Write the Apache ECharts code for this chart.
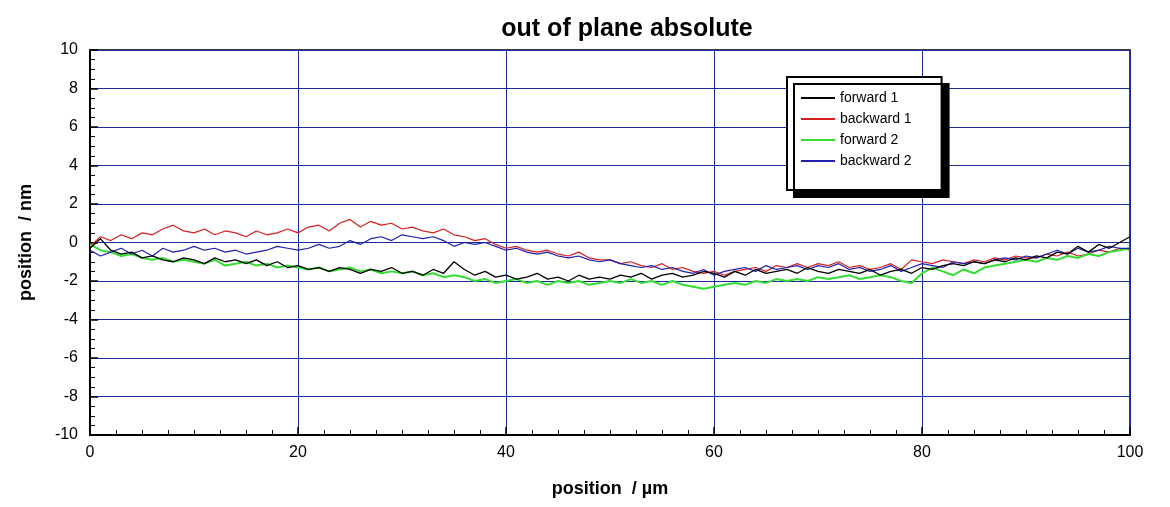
<!DOCTYPE html><html><head><meta charset="utf-8"><script src="https://cdn.jsdelivr.net/npm/echarts@6/dist/echarts.min.js"></script></head><body style="margin:0;background:#fff"><div id="c" style="width:1170px;height:507px"></div><script>
const seriesNames=['forward 1','backward 1','forward 2','backward 2'];
const xTicks=[0,20,40,60,80,100];
const forward1=[-0.3,0.2,-0.4,-0.6,-0.5,-0.8,-0.7,-0.9,-1.0,-0.8,-0.9,-1.1,-0.8,-1.0,-0.9,-1.1,-0.9,-1.2,-1.0,-1.3,-1.2,-1.4,-1.3,-1.5,-1.3,-1.4,-1.6,-1.4,-1.5,-1.3,-1.6,-1.5,-1.7,-1.4,-1.6,-1.0,-1.4,-1.7,-1.5,-1.8,-1.7,-1.9,-1.8,-1.6,-1.9,-1.8,-2.0,-1.7,-1.9,-1.8,-1.9,-1.7,-1.8,-1.6,-1.9,-1.7,-1.6,-1.8,-1.7,-1.5,-1.6,-1.8,-1.5,-1.7,-1.4,-1.6,-1.5,-1.4,-1.6,-1.3,-1.5,-1.6,-1.4,-1.5,-1.6,-1.4,-1.7,-1.5,-1.4,-1.6,-1.3,-1.4,-1.2,-1.1,-1.2,-1.0,-1.1,-0.9,-1.0,-0.8,-0.9,-0.7,-0.8,-0.5,-0.6,-0.2,-0.5,-0.1,-0.3,0.0,0.3];
const backward1=[-0.2,0.3,0.1,0.4,0.2,0.5,0.4,0.7,0.9,0.6,0.5,0.7,0.4,0.6,0.5,0.3,0.6,0.4,0.5,0.7,0.5,0.8,0.9,0.6,1.0,1.2,0.8,1.1,0.9,1.0,0.7,0.8,0.6,0.5,0.7,0.4,0.3,0.1,0.2,-0.1,-0.3,-0.2,-0.4,-0.5,-0.4,-0.6,-0.7,-0.5,-0.8,-0.9,-0.9,-1.1,-1.0,-1.2,-1.3,-1.1,-1.4,-1.3,-1.5,-1.6,-1.5,-1.7,-1.5,-1.4,-1.3,-1.5,-1.2,-1.3,-1.1,-1.3,-1.1,-1.2,-1.0,-1.3,-1.2,-1.4,-1.3,-1.1,-1.4,-0.9,-1.0,-1.1,-0.9,-1.0,-1.1,-0.9,-1.0,-0.8,-0.9,-0.7,-0.8,-0.8,-0.6,-0.7,-0.5,-0.7,-0.6,-0.4,-0.5,-0.3,-0.4];
const forward2=[-0.1,-0.4,-0.5,-0.7,-0.6,-0.8,-0.9,-0.8,-1.0,-0.9,-1.0,-1.1,-0.9,-1.2,-1.1,-1.0,-1.2,-1.1,-1.3,-1.2,-1.3,-1.4,-1.3,-1.5,-1.4,-1.3,-1.5,-1.4,-1.6,-1.5,-1.6,-1.5,-1.7,-1.6,-1.8,-1.7,-1.8,-2.0,-1.9,-2.1,-2.0,-1.9,-2.1,-2.0,-2.2,-2.0,-2.1,-2.0,-2.2,-2.1,-2.0,-2.1,-1.9,-2.1,-2.0,-2.2,-2.0,-2.2,-2.3,-2.4,-2.3,-2.2,-2.1,-2.2,-2.0,-2.1,-1.9,-2.0,-1.9,-2.0,-1.8,-1.9,-1.8,-1.7,-1.9,-1.8,-1.7,-1.8,-2.0,-2.1,-1.6,-1.3,-1.5,-1.7,-1.4,-1.6,-1.3,-1.2,-1.1,-1.0,-0.9,-1.0,-0.8,-0.9,-0.7,-0.8,-0.6,-0.7,-0.5,-0.4,-0.3];
const backward2=[-0.4,-0.7,-0.5,-0.3,-0.6,-0.4,-0.7,-0.3,-0.5,-0.4,-0.2,-0.4,-0.3,-0.5,-0.4,-0.6,-0.5,-0.4,-0.2,-0.3,-0.4,-0.3,-0.1,-0.3,-0.2,0.1,-0.1,0.2,0.3,0.1,0.4,0.3,0.2,0.3,0.1,-0.2,0.0,-0.1,0.0,-0.2,-0.4,-0.3,-0.5,-0.6,-0.5,-0.7,-0.8,-0.7,-0.9,-1.0,-0.9,-1.1,-1.2,-1.3,-1.2,-1.4,-1.3,-1.5,-1.6,-1.4,-1.7,-1.5,-1.4,-1.3,-1.5,-1.2,-1.4,-1.3,-1.2,-1.4,-1.2,-1.3,-1.1,-1.4,-1.3,-1.5,-1.4,-1.2,-1.5,-1.3,-1.1,-1.2,-1.3,-1.0,-1.1,-1.0,-1.1,-0.9,-0.8,-0.9,-0.7,-0.8,-0.6,-0.4,-0.6,-0.3,-0.5,-0.4,-0.2,-0.3,-0.3];
const colors=['#000000','#d42020','#33dd33','#2020b0'];
const widths=[1.3,1.2,2,1.2];
const pair=a=>a.map((v,i)=>[i*100/(a.length-1),v]);
const data=[forward1,backward1,forward2,backward2];
const ch=echarts.init(document.getElementById('c'));
const F='Arial, Liberation Sans, sans-serif';
ch.setOption({
 animation:false,
 title:{text:'out of plane absolute',left:622,top:12,textAlign:'center',textStyle:{fontFamily:F,fontSize:25,fontWeight:'bold',color:'#000'}},
 grid:{left:90,right:40,top:50,bottom:72,show:true,borderColor:'#000',borderWidth:1.5},
 legend:{orient:'vertical',left:787,top:77,width:150,data:seriesNames,itemWidth:34,itemHeight:2,itemGap:7,
  backgroundColor:'#fff',borderColor:'#000',borderWidth:2,padding:[14,30,22,14],
  shadowColor:'#000',shadowOffsetX:7,shadowOffsetY:7,shadowBlur:0,
  textStyle:{fontFamily:F,fontSize:14,color:'#000'},icon:'rect'},
 xAxis:{type:'value',min:0,max:100,interval:20,name:'position  / µm',nameLocation:'middle',nameGap:45,
  nameTextStyle:{fontFamily:F,fontSize:18,fontWeight:'bold',color:'#000'},
  axisLine:{onZero:false,lineStyle:{color:'#000',width:2}},axisTick:{inside:true,length:8,lineStyle:{color:'#000',width:1.5}},
  minorTick:{show:true,splitNumber:8,length:5,lineStyle:{color:'#000'}},
  axisLabel:{fontFamily:F,fontSize:16,color:'#000',margin:10},
  splitLine:{show:true,lineStyle:{color:'#1a2a9a',width:1}}},
 yAxis:{type:'value',min:-10,max:10,interval:2,name:'position  / nm',nameLocation:'middle',nameGap:55,
  nameTextStyle:{fontFamily:F,fontSize:18,fontWeight:'bold',color:'#000'},
  axisLine:{onZero:false,lineStyle:{color:'#000',width:2}},axisTick:{inside:true,length:8,lineStyle:{color:'#000',width:1.5}},
  minorTick:{show:true,splitNumber:4,length:5,lineStyle:{color:'#000'}},
  axisLabel:{fontFamily:F,fontSize:16,color:'#000',margin:12},
  splitLine:{show:true,lineStyle:{color:'#1a2a9a',width:1}}},
 series:seriesNames.map((n,k)=>({name:n,type:'line',data:pair(data[k]),showSymbol:false,color:colors[k],lineStyle:{width:widths[k],color:colors[k]},z:k===0?5:k}))
});
</script></body></html>
